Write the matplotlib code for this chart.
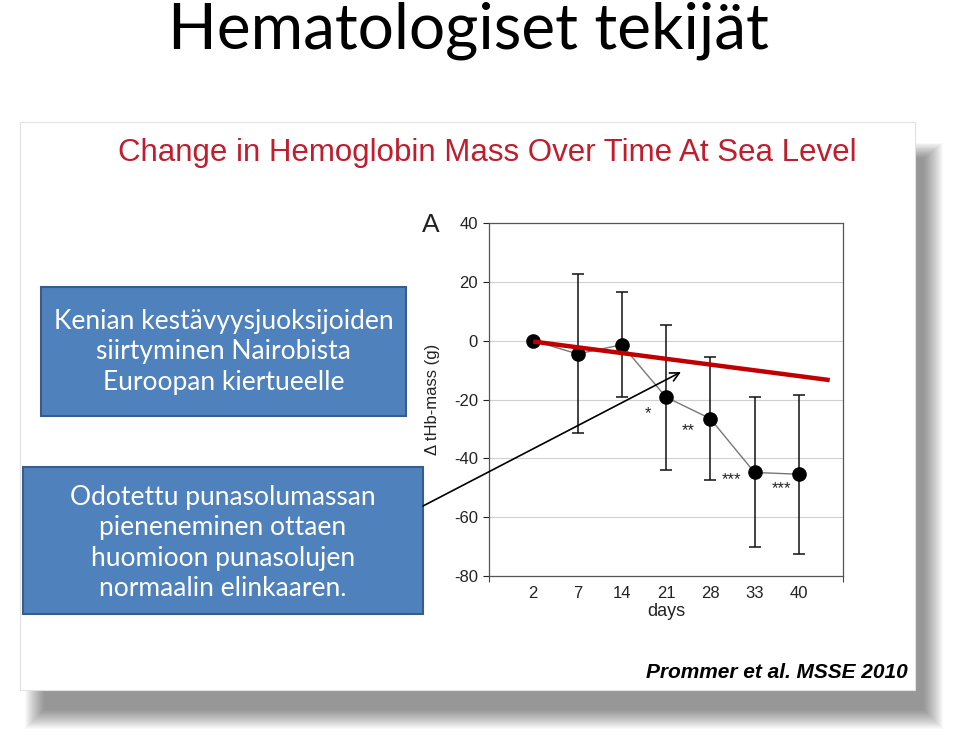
import matplotlib
matplotlib.use("Agg")
import matplotlib.pyplot as plt
from matplotlib.patches import Rectangle, FancyArrowPatch
import numpy as np

plt.rcParams["axes.unicode_minus"] = False

# slide texts
slide_title = "Hematologiset tekijät"
chart_title = "Change in Hemoglobin Mass Over Time At Sea Level"
box1_text = "Kenian kestävyysjuoksijoiden\nsiirtyminen Nairobista\nEuroopan kiertueelle"
box2_text = ("Odotettu punasolumassan\npieneneminen ottaen\n"
             "huomioon punasolujen\nnormaalin elinkaaren.")
source_text = "Prommer et al. MSSE 2010"

# chart data
days = ["2", "7", "14", "21", "28", "33", "40"]
hb_change = [0, -4.5, -1.4, -19.2, -26.5, -44.8, -45.4]
hb_err = [0, 27, 17.8, 24.6, 21, 25.5, 27]
y_ticks = [40, 20, 0, -20, -40, -60, -80]

# expected decline (red line)
trend_x = [0, 6.7]
trend_y = [-0.3, -13.4]

# significance marks
star_labels = ["*", "**", "***", "***"]
star_x = [2.6, 3.51, 4.48, 5.61]
star_y = [-24.7, -30.6, -47.4, -50.2]

W, H = 960, 736
fig = plt.figure(figsize=(W / 100, H / 100), dpi=100)

calibri = ["Lato", "DejaVu Sans"]
arial = ["Liberation Sans", "DejaVu Sans"]

# background layer in pixel coordinates
bg = fig.add_axes([0, 0, 1, 1], zorder=0)
bg.set_xlim(0, W)
bg.set_ylim(H, 0)
bg.axis("off")

# soft panel shadow, mostly below and to the right
for k in range(20):
    bg.add_patch(Rectangle((44 - k, 158 - k * 0.8), 880 + 2 * k, 552 + 1.8 * k,
                           facecolor="black", edgecolor="none", alpha=0.022))
bg.add_patch(Rectangle((20, 122), 895, 568, facecolor="white",
                       edgecolor="#e2e2e2", lw=0.8))

bg.text(468, 48, slide_title, ha="center", va="baseline", fontsize=46,
        family=calibri, color="black")
bg.text(487, 153, chart_title, ha="center", va="center", fontsize=22.5,
        family=arial, color="#BE1E2D")
bg.text(431, 225, "A", ha="center", va="center", fontsize=19,
        family=arial, color="#222222")
bg.text(908, 673, source_text, ha="right", va="center", fontsize=15,
        family=arial, fontweight="bold", fontstyle="italic", color="black")

# chart
ax = fig.add_axes([489 / W, 1 - 576 / H, 354 / W, 353 / H], zorder=1)
ax.set_facecolor("none")
x = np.arange(len(days))
ax.set_xlim(-1, len(days))
ax.set_ylim(-80, 40)
ax.set_yticks(y_ticks)
ax.set_xticks(x)
ax.set_xticklabels(days)
ax.set_xticks(np.arange(-1, len(days) + 1), minor=True)
ax.tick_params(axis="x", which="major", length=0, pad=7, labelsize=12,
               colors="#222222")
ax.tick_params(axis="x", which="minor", length=4, width=0.8, color="#444444")
ax.tick_params(axis="y", length=4, width=0.8, pad=4, labelsize=12,
               colors="#222222")
for lab in ax.get_xticklabels() + ax.get_yticklabels():
    lab.set_family(arial)
for s in ax.spines.values():
    s.set_color("#555555")
    s.set_linewidth(0.9)
ax.grid(axis="y", color="#d0d0d0", lw=0.8)
ax.set_axisbelow(True)

ax.plot(x, hb_change, color="#777777", lw=1.0, zorder=2)
ax.errorbar(x, hb_change, yerr=hb_err, fmt="none", ecolor="#111111",
            elinewidth=1.1, capsize=4, capthick=1.1, zorder=3)
ax.plot(x, hb_change, "o", color="black", markersize=9.5, zorder=4)
ax.plot(trend_x, trend_y, color="#C00000", lw=3.2, solid_capstyle="butt",
        zorder=5)
for lab, sx, sy in zip(star_labels, star_x, star_y):
    ax.text(sx, sy, lab, ha="center", va="center", fontsize=12,
            family=arial, color="#222222")

ax.set_xlabel("days", fontsize=13, family=arial, color="#222222", labelpad=2)
ax.set_ylabel("Δ tHb-mass (g)", fontsize=12, family=arial, color="#222222",
              labelpad=10)

# foreground layer: boxes and arrow
fg = fig.add_axes([0, 0, 1, 1], zorder=2)
fg.set_facecolor("none")
fg.set_xlim(0, W)
fg.set_ylim(H, 0)
fg.axis("off")

fg.add_patch(Rectangle((41, 287), 365, 129, facecolor="#4F81BD",
                       edgecolor="#385D8A", lw=1.5))
fg.add_patch(Rectangle((23, 467), 400, 147, facecolor="#4F81BD",
                       edgecolor="#385D8A", lw=1.5))
fg.text(223.5, 352, box1_text, ha="center", va="center", fontsize=19,
        family=calibri, color="white", linespacing=1.27)
fg.text(223, 543, box2_text, ha="center", va="center", fontsize=19,
        family=calibri, color="white", linespacing=1.27)

fg.add_patch(FancyArrowPatch((423, 506), (681, 372), arrowstyle="->",
                             mutation_scale=16, color="black", lw=1.2,
                             shrinkA=0, shrinkB=0))

fig.savefig("out.png", dpi=100)
